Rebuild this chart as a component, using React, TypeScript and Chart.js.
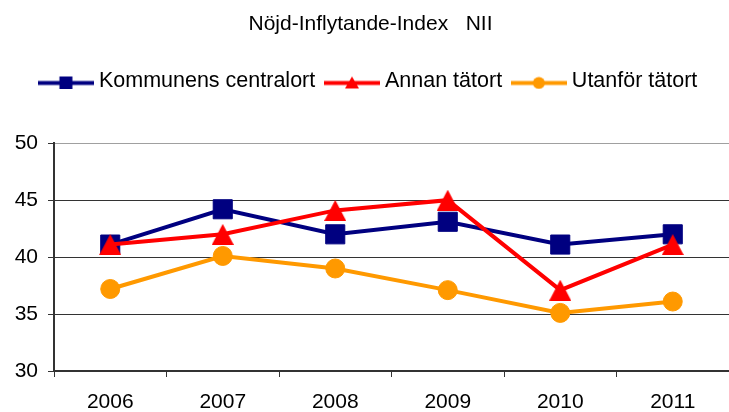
import React, { useEffect, useRef } from 'react';
import { Chart, registerables } from 'chart.js';

Chart.register(...registerables);

const TITLE = 'Nöjd-Inflytande-Index   NII';
const categories = ['2006', '2007', '2008', '2009', '2010', '2011'];
const seriesNames = ['Kommunens centralort', 'Annan tätort', 'Utanför tätort'];
const kommunens = [41.1, 44.2, 42.0, 43.1, 41.1, 42.0];
const annan = [41.1, 42.0, 44.1, 45.0, 37.1, 41.1];
const utanfor = [37.2, 40.1, 39.0, 37.1, 35.1, 36.1];
const yTicks = [30, 35, 40, 45, 50];

const NAVY = '#000080';
const RED = '#FF0000';
const ORANGE = '#FF9900';
const FONT = "'Liberation Sans', Arial, sans-serif";
const LEGEND_EXTRA_SPACE = 41;
const LINE_WIDTH = 4;

function makeCanvas(w: number, h: number, draw: (ctx: CanvasRenderingContext2D) => void) {
  const c = document.createElement('canvas');
  c.width = w;
  c.height = h;
  const ctx = c.getContext('2d')!;
  draw(ctx);
  return c;
}

function triangleMarker(w: number, h: number, color: string) {
  return makeCanvas(w, h, (ctx) => {
    ctx.fillStyle = color;
    ctx.beginPath();
    ctx.moveTo(w / 2, 0);
    ctx.lineTo(w, h);
    ctx.lineTo(0, h);
    ctx.closePath();
    ctx.fill();
  });
}

function legendIcon(color: string, kind: 'square' | 'triangle' | 'circle') {
  const w = 56;
  const h = 16;
  const cy = 9.5;
  return makeCanvas(w, h, (ctx) => {
    ctx.strokeStyle = color;
    ctx.lineWidth = 4;
    ctx.beginPath();
    ctx.moveTo(0, cy);
    ctx.lineTo(w, cy);
    ctx.stroke();
    ctx.fillStyle = color;
    const cx = w / 2;
    if (kind === 'square') {
      ctx.fillRect(cx - 6.5, cy - 6.5, 13, 13);
    } else if (kind === 'triangle') {
      ctx.beginPath();
      ctx.moveTo(cx, cy - 6.5);
      ctx.lineTo(cx + 7, cy + 5.5);
      ctx.lineTo(cx - 7, cy + 5.5);
      ctx.closePath();
      ctx.fill();
    } else {
      ctx.beginPath();
      ctx.arc(cx, cy, 6, 0, Math.PI * 2);
      ctx.fill();
    }
  });
}

const legendSpacer = {
  id: 'legendSpacer',
  beforeLayout(chart: any) {
    const lg = chart.legend;
    if (lg && !lg._spacerPatched) {
      const orig = lg.fit;
      lg.fit = function (this: any) {
        orig.call(this);
        this.height += LEGEND_EXTRA_SPACE;
      };
      lg._spacerPatched = true;
    }
  },
};

export default function App() {
  const ref = useRef<HTMLCanvasElement | null>(null);

  useEffect(() => {
    document.body.style.margin = '0';
    const canvas = ref.current;
    if (!canvas) return;

    const icons = [
      legendIcon(NAVY, 'square'),
      legendIcon(RED, 'triangle'),
      legendIcon(ORANGE, 'circle'),
    ];
    const tri = triangleMarker(22, 21, RED);

    const chart = new Chart(canvas, {
      type: 'line',
      data: {
        labels: categories,
        datasets: [
          {
            label: seriesNames[0],
            data: kommunens,
            borderColor: NAVY,
            backgroundColor: NAVY,
            borderWidth: LINE_WIDTH,
            pointStyle: 'rect',
            pointRadius: 13.5,
            pointBorderWidth: 1,
            pointBackgroundColor: NAVY,
            pointBorderColor: NAVY,
            tension: 0,
            order: 1,
          },
          {
            label: seriesNames[1],
            data: annan,
            borderColor: RED,
            backgroundColor: RED,
            borderWidth: LINE_WIDTH,
            pointStyle: tri as any,
            pointRadius: 11,
            pointBackgroundColor: RED,
            pointBorderColor: RED,
            tension: 0,
            order: 0,
          },
          {
            label: seriesNames[2],
            data: utanfor,
            borderColor: ORANGE,
            backgroundColor: ORANGE,
            borderWidth: LINE_WIDTH,
            pointStyle: 'circle',
            pointRadius: 9.5,
            pointBorderWidth: 1,
            pointBackgroundColor: ORANGE,
            pointBorderColor: ORANGE,
            tension: 0,
            order: 2,
          },
        ],
      },
      plugins: [legendSpacer],
      options: {
        animation: false,
        responsive: false,
        devicePixelRatio: 1,
        layout: { autoPadding: false, padding: { left: 12, top: 0, right: 0, bottom: 0 } },
        plugins: {
          tooltip: { enabled: false },
          title: {
            display: true,
            text: TITLE,
            color: '#000',
            font: { family: FONT, size: 21, weight: 'normal' },
            padding: { top: 12, bottom: 19 },
          },
          legend: {
            display: true,
            labels: {
              usePointStyle: true,
              pointStyleWidth: 44.5,
              padding: 14.5,
              color: '#000',
              font: { family: FONT, size: 21.5 },
              generateLabels: (c: any) =>
                c.data.datasets.map((ds: any, i: number) => ({
                  text: ds.label,
                  pointStyle: icons[i],
                  fillStyle: ds.borderColor,
                  strokeStyle: ds.borderColor,
                  lineWidth: 0,
                  hidden: false,
                  datasetIndex: i,
                  fontColor: '#000',
                })),
            },
          },
        },
        scales: {
          x: {
            type: 'category',
            offset: true,
            grid: {
              offset: true,
              drawOnChartArea: false,
              drawTicks: true,
              tickLength: 6,
              color: '#333',
            },
            border: { color: '#333', width: 2 },
            ticks: {
              color: '#000',
              font: { family: FONT, size: 21 },
              padding: 13,
              maxRotation: 0,
              autoSkip: false,
            },
            afterFit: (s: any) => {
              s.height = 41;
              s.paddingLeft = 0;
              s.paddingRight = 0;
            },
          },
          y: {
            min: yTicks[0],
            max: yTicks[yTicks.length - 1],
            afterBuildTicks: (s: any) => {
              s.ticks = yTicks.map((v) => ({ value: v }));
            },
            grid: {
              color: (ctx: any) => (ctx.tick && ctx.tick.value === yTicks[yTicks.length - 1] ? '#a0a0a0' : '#333'),
              tickColor: '#333',
              tickLength: 6,
            },
            border: { color: '#333', width: 2 },
            ticks: {
              color: '#000',
              font: { family: FONT, size: 21 },
              padding: 10,
            },
            afterFit: (s: any) => {
              s.width = 42;
            },
          },
        },
      },
    });

    return () => {
      chart.destroy();
    };
  }, []);

  return (
    <div style={{ width: 729, height: 412 }}>
      <canvas ref={ref} width={729} height={412} />
    </div>
  );
}
